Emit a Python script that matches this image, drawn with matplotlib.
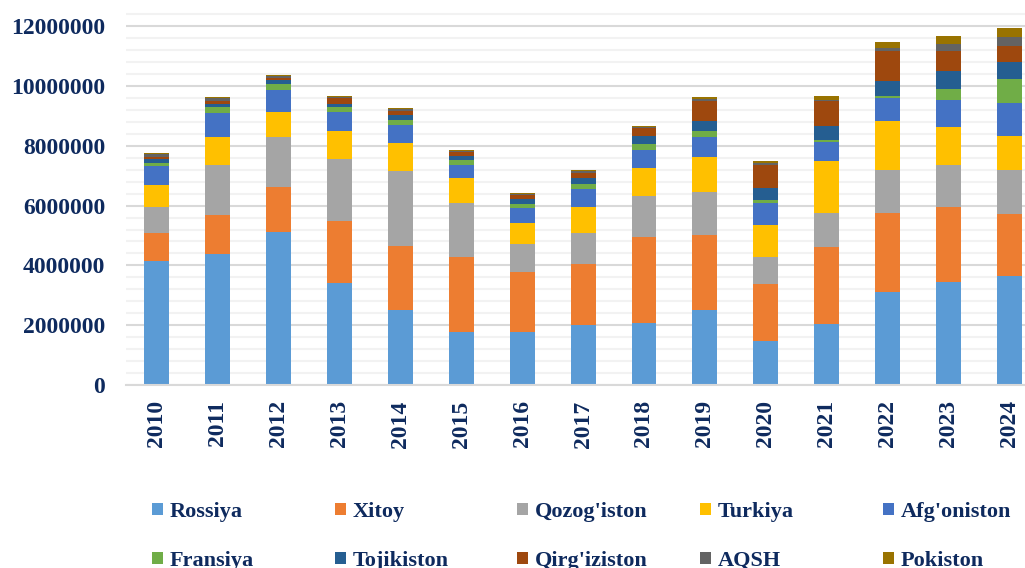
import matplotlib
matplotlib.use("Agg")
import matplotlib.pyplot as plt
from matplotlib.ticker import MultipleLocator, FuncFormatter
from matplotlib.patches import Patch
import numpy as np

years = ["2010", "2011", "2012", "2013", "2014", "2015", "2016", "2017",
         "2018", "2019", "2020", "2021", "2022", "2023", "2024"]

rossiya     = [4150000, 4390000, 5120000, 3420000, 2510000, 1770000, 1770000, 2000000,
               2060000, 2510000, 1460000, 2040000, 3110000, 3460000, 3660000]
xitoy       = [920000, 1300000, 1490000, 2070000, 2140000, 2500000, 2000000, 2040000,
               2890000, 2520000, 1930000, 2560000, 2640000, 2490000, 2070000]
qozogiston  = [880000, 1680000, 1680000, 2070000, 2500000, 1830000, 960000, 1030000,
               1380000, 1420000, 900000, 1150000, 1430000, 1420000, 1450000]
turkiya     = [730000, 920000, 850000, 920000, 940000, 810000, 690000, 890000,
               930000, 1190000, 1050000, 1730000, 1650000, 1260000, 1150000]
afgoniston  = [660000, 810000, 730000, 660000, 620000, 450000, 510000, 600000,
               610000, 650000, 760000, 660000, 770000, 890000, 1110000]
fransiya    = [70000, 190000, 190000, 150000, 150000, 170000, 120000, 160000,
               190000, 190000, 80000, 40000, 70000, 380000, 800000]
tojikiston  = [150000, 120000, 140000, 120000, 160000, 140000, 170000, 190000,
               280000, 340000, 420000, 490000, 500000, 610000, 550000]
qirgiziston = [80000, 100000, 80000, 200000, 150000, 120000, 140000, 190000,
               270000, 670000, 750000, 820000, 1000000, 660000, 540000]
aqsh        = [80000, 80000, 40000, 30000, 50000, 40000, 20000, 50000,
               30000, 70000, 60000, 50000, 110000, 220000, 310000]
pokiston    = [30000, 40000, 50000, 40000, 30000, 20000, 30000, 30000,
               30000, 70000, 70000, 130000, 180000, 270000, 290000]

series_names = ["Rossiya", "Xitoy", "Qozog'iston", "Turkiya", "Afg'oniston",
                "Fransiya", "Tojikiston", "Qirg'iziston", "AQSH", "Pokiston"]
series_values = [rossiya, xitoy, qozogiston, turkiya, afgoniston,
                 fransiya, tojikiston, qirgiziston, aqsh, pokiston]
colors = ["#5B9BD5", "#ED7D31", "#A5A5A5", "#FFC000", "#4472C4",
          "#70AD47", "#255E91", "#9E480E", "#636363", "#997300"]

text_color = "#0E2A5E"
font = "Liberation Serif"

fig = plt.figure(figsize=(10.25, 5.68), dpi=100)
ax = fig.add_axes([0.1231, 0.3222, 0.8915, 0.6632])

x = np.arange(len(years))
bottom = np.zeros(len(years))
for name, vals, c in zip(series_names, series_values, colors):
    v = np.array(vals, dtype=float)
    ax.bar(x, v, width=0.41, bottom=bottom, color=c, label=name,
           edgecolor="none", zorder=3)
    bottom += v

ax.set_xlim(-0.5, len(years) - 0.5)
ax.set_ylim(0, 12600000)
ax.yaxis.set_major_locator(MultipleLocator(2000000))
ax.yaxis.set_minor_locator(MultipleLocator(400000))
ax.grid(which="major", axis="y", color="#D9D9D9", linewidth=1.5, zorder=0)
ax.grid(which="minor", axis="y", color="#F2F2F2", linewidth=1.5, zorder=0)
for s in ["left", "right", "top"]:
    ax.spines[s].set_visible(False)
ax.spines["bottom"].set_color("#D9D9D9")
ax.spines["bottom"].set_linewidth(1.5)
ax.spines["bottom"].set_zorder(4)

ax.set_xticks(x)
ax.set_xticklabels(years, rotation=90, fontfamily=font, fontweight="bold",
                   fontsize=17, color=text_color)
ax.tick_params(axis="x", length=0, pad=11)
ax.tick_params(axis="y", which="both", length=0, pad=15)
ax.yaxis.set_major_formatter(FuncFormatter(lambda v, p: f"{int(v)}"))
for lab in ax.get_yticklabels():
    lab.set_fontfamily(font)
    lab.set_fontweight("bold")
    lab.set_fontsize(17)
    lab.set_color(text_color)

# legend: 5 columns evenly spaced, 2 rows
col_x = [151.7, 334.5, 517.3, 700.1, 883.0]
for i in range(5):
    handles = [Patch(facecolor=colors[i], edgecolor="none"),
               Patch(facecolor=colors[i + 5], edgecolor="none")]
    labels = [series_names[i], series_names[i + 5]]
    leg = fig.legend(handles, labels, loc="upper left",
                     bbox_to_anchor=(col_x[i] / 1025, 1 - 502 / 568),
                     frameon=False, handlelength=0.5, handleheight=0.5,
                     handletextpad=0.3, labelspacing=1.3, borderpad=0,
                     borderaxespad=0,
                     prop={"family": font, "weight": "bold", "size": 16})
    for t in leg.get_texts():
        t.set_color(text_color)

fig.savefig("out.png", dpi=100)
